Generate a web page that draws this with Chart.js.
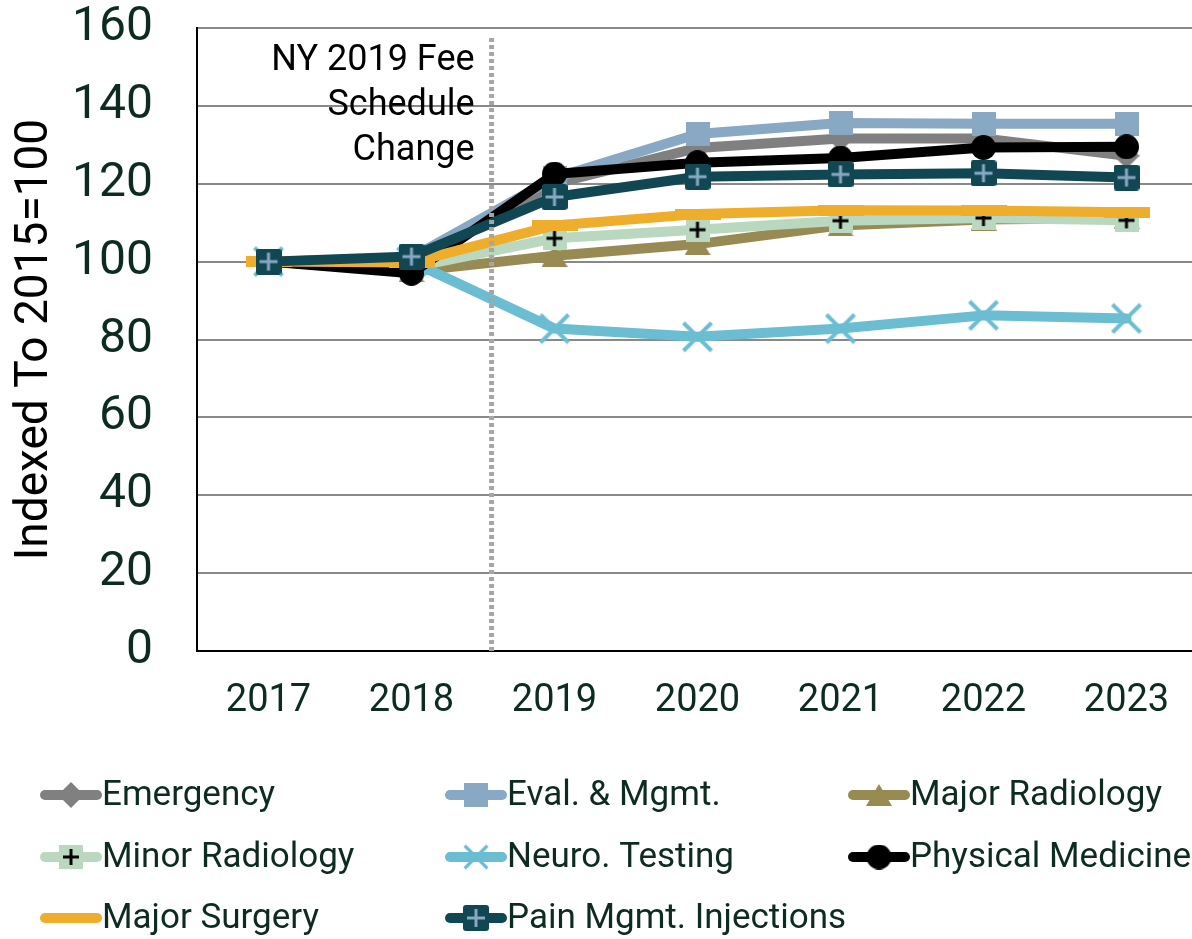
<!DOCTYPE html>
<html>
<head>
<meta charset="utf-8">
<script src="https://cdn.jsdelivr.net/npm/chart.js@4.4.1/dist/chart.umd.min.js"></script>
<style>
    html, body { margin: 0; padding: 0; background: #fff; overflow: hidden; }
    canvas { display: block; }
</style>
</head>
<body>
<canvas id="index-chart" width="1200" height="939"></canvas>
<script>
const years = ['2017', '2018', '2019', '2020', '2021', '2022', '2023'];

const emergency = [100, 99.5, 120.0, 129.2, 131.6, 131.6, 127.2];
const evalMgmt = [100, 101.0, 121.5, 132.8, 135.6, 135.4, 135.4];
const majorRadiology = [100, 97.5, 101.5, 104.5, 109.3, 110.8, 111.2];
const minorRadiology = [100, 98.5, 106.0, 108.2, 110.5, 111.2, 110.6];
const neuroTesting = [100, 100.0, 82.8, 80.7, 82.8, 86.2, 85.4];
const physicalMedicine = [100, 97.0, 122.5, 125.4, 126.6, 129.3, 129.5];
const majorSurgery = [100, 99.8, 109.3, 112.2, 113.2, 113.1, 112.7];
const painMgmt = [100, 101.3, 116.6, 121.8, 122.4, 122.7, 121.6];

const yMin = 0;
const yMax = 160;
const yStep = 20;

// fee schedule change falls a bit past the 2018 category
const feeChangeAt = 1.56;
const feeChangeLabel = ['NY 2019 Fee', 'Schedule', 'Change'];

const textColor = '#0d2b1f';
const fontFamily = 'Roboto, "Liberation Sans", sans-serif';

const makeMarker = (w, h, draw) => {
    const c = document.createElement('canvas');
    c.width = w;
    c.height = h;
    draw(c.getContext('2d'), w, h);
    return c;
};

const plusOn = (ctx, w, h, color, width, inset) => {
    ctx.strokeStyle = color;
    ctx.lineWidth = width;
    ctx.beginPath();
    ctx.moveTo(w / 2, inset);
    ctx.lineTo(w / 2, h - inset);
    ctx.moveTo(inset, h / 2);
    ctx.lineTo(w - inset, h / 2);
    ctx.stroke();
};

const markers = {
    diamond: makeMarker(26, 26, (ctx) => {
        ctx.fillStyle = '#808080';
        ctx.beginPath();
        ctx.moveTo(13, 0); ctx.lineTo(26, 13); ctx.lineTo(13, 26); ctx.lineTo(0, 13);
        ctx.closePath();
        ctx.fill();
    }),
    square: makeMarker(24, 24, (ctx) => {
        ctx.fillStyle = '#88a8c4';
        ctx.fillRect(0, 0, 24, 24);
    }),
    triangle: makeMarker(26, 22, (ctx) => {
        ctx.fillStyle = '#978b53';
        ctx.beginPath();
        ctx.moveTo(13, 0); ctx.lineTo(26, 22); ctx.lineTo(0, 22);
        ctx.closePath();
        ctx.fill();
    }),
    minorPlus: makeMarker(24, 24, (ctx, w, h) => {
        ctx.fillStyle = '#b9d8bf';
        ctx.fillRect(0, 0, w, h);
        plusOn(ctx, w, h, '#000', 3, 4);
    }),
    cross: makeMarker(32, 32, (ctx) => {
        ctx.strokeStyle = '#6bbdd1';
        ctx.lineWidth = 4;
        ctx.beginPath();
        ctx.moveTo(2, 2); ctx.lineTo(30, 30);
        ctx.moveTo(30, 2); ctx.lineTo(2, 30);
        ctx.stroke();
    }),
    circle: makeMarker(25, 25, (ctx) => {
        ctx.fillStyle = '#000';
        ctx.beginPath();
        ctx.arc(12.5, 12.5, 12.5, 0, Math.PI * 2);
        ctx.fill();
    }),
    dash: makeMarker(46, 11, (ctx) => {
        ctx.fillStyle = '#eead2a';
        ctx.fillRect(0, 0, 46, 11);
    }),
    painPlus: makeMarker(26, 26, (ctx, w, h) => {
        ctx.fillStyle = '#114753';
        ctx.beginPath();
        ctx.roundRect(0, 0, w, h, 3);
        ctx.fill();
        plusOn(ctx, w, h, '#88a8c4', 3, 4);
    }),
};

const series = [
    { label: 'Emergency', data: emergency, color: '#808080', marker: markers.diamond },
    { label: 'Eval. & Mgmt.', data: evalMgmt, color: '#88a8c4', marker: markers.square },
    { label: 'Major Radiology', data: majorRadiology, color: '#978b53', marker: markers.triangle },
    { label: 'Minor Radiology', data: minorRadiology, color: '#b9d8bf', marker: markers.minorPlus },
    { label: 'Neuro. Testing', data: neuroTesting, color: '#6bbdd1', marker: markers.cross },
    { label: 'Physical Medicine', data: physicalMedicine, color: '#000000', marker: markers.circle },
    { label: 'Major Surgery', data: majorSurgery, color: '#eead2a', marker: markers.dash },
    { label: 'Pain Mgmt. Injections', data: painMgmt, color: '#114753', marker: markers.painPlus },
];

const yTicks = [];
for (let v = yMin; v <= yMax; v += yStep) yTicks.push(v);

const feeChangePlugin = {
    id: 'feeChange',
    afterDatasetsDraw(chart) {
        const { ctx, chartArea, scales } = chart;
        const x = scales.x.getPixelForValue(feeChangeAt);
        ctx.save();
        ctx.strokeStyle = '#a6a6a6';
        ctx.lineWidth = 5;
        ctx.setLineDash([4, 3]);
        ctx.beginPath();
        ctx.moveTo(x, chartArea.top + 10);
        ctx.lineTo(x, chartArea.bottom);
        ctx.stroke();
        ctx.restore();

        ctx.save();
        ctx.fillStyle = '#000';
        ctx.font = `36px ${fontFamily}`;
        ctx.textAlign = 'right';
        ctx.textBaseline = 'alphabetic';
        feeChangeLabel.forEach((line, i) => {
            ctx.fillText(line, x - 17, chartArea.top + 42 + i * 45);
        });
        ctx.restore();
    },
};

const legendPlugin = {
    id: 'gridLegend',
    afterDraw(chart) {
        const { ctx } = chart;
        const cols = [40, 445, 848];
        const rows = [795, 857, 918];
        ctx.save();
        ctx.font = `35px ${fontFamily}`;
        ctx.textBaseline = 'middle';
        ctx.textAlign = 'left';
        series.forEach((s, i) => {
            const x = cols[i % 3];
            const y = rows[Math.floor(i / 3)];
            ctx.strokeStyle = s.color;
            ctx.lineWidth = 10;
            ctx.lineCap = 'round';
            ctx.beginPath();
            ctx.moveTo(x + 5, y);
            ctx.lineTo(x + 57, y);
            ctx.stroke();
            const m = s.marker;
            const mw = Math.min(m.width, 26);
            const mh = m.height * mw / m.width;
            if (m !== markers.dash) ctx.drawImage(m, x + 31 - mw / 2, y - mh / 2, mw, mh);
            ctx.fillStyle = textColor;
            ctx.fillText(s.label, x + 62, y + 1);
        });
        ctx.restore();
    },
};

const ctx = document.getElementById('index-chart').getContext('2d');
new Chart(ctx, {
    type: 'line',
    data: {
        labels: years,
        datasets: series.map((s, i) => ({
            label: s.label,
            data: s.data,
            borderColor: s.color,
            backgroundColor: s.color,
            borderWidth: 10,
            borderJoinStyle: 'round',
            borderCapStyle: 'round',
            tension: 0,
            fill: false,
            pointStyle: s.marker,
            pointRadius: 12,
            order: series.length - i,
        })),
    },
    options: {
        responsive: false,
        animation: false,
        events: [],
        layout: { autoPadding: false, padding: { top: 28, right: 2, bottom: 0, left: 0 } },
        plugins: {
            legend: { display: false },
            tooltip: { enabled: false },
        },
        scales: {
            x: {
                type: 'category',
                offset: true,
                grid: { display: false, drawTicks: false },
                border: { display: true, color: '#000', width: 2 },
                ticks: {
                    color: textColor,
                    font: { family: fontFamily, size: 38 },
                    padding: 28,
                    maxRotation: 0,
                },
                afterFit: (scale) => {
                    scale.height = 288;
                    scale.paddingLeft = 0;
                    scale.paddingRight = 0;
                },
            },
            y: {
                min: yMin,
                max: yMax,
                afterBuildTicks: (scale) => { scale.ticks = yTicks.map(v => ({ value: v })); },
                grid: { color: '#898989', lineWidth: 2, drawTicks: false },
                border: { display: true, color: '#000', width: 2 },
                ticks: {
                    color: textColor,
                    font: { family: fontFamily, size: 48 },
                    padding: 44,
                },
                title: {
                    display: true,
                    text: 'Indexed To 2015=100',
                    color: '#000',
                    font: { family: fontFamily, size: 46 },
                    padding: { top: 8, bottom: 0 },
                },
                afterFit: (scale) => {
                    scale.width = 197;
                    scale.paddingTop = 0;
                    scale.paddingBottom = 0;
                },
            },
        },
    },
    plugins: [feeChangePlugin, legendPlugin],
});
</script>
</body>
</html>
